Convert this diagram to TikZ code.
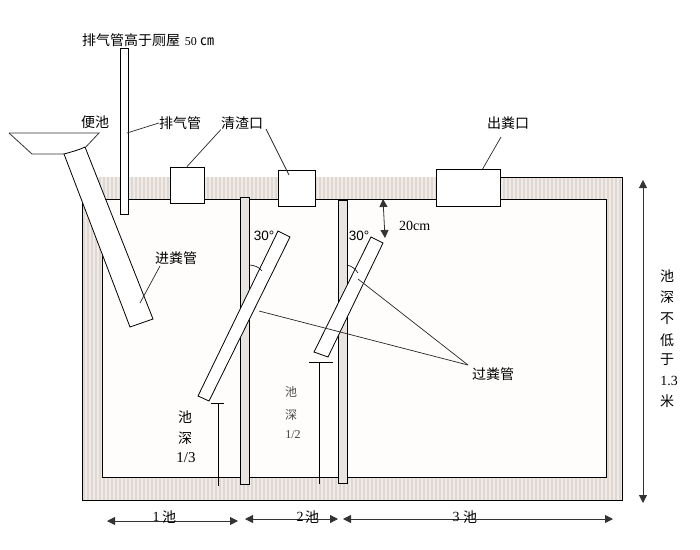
\documentclass[tikz,border=0pt]{standalone}
\usepackage{fontspec}
\setmainfont{Liberation Serif}
\setsansfont{Liberation Sans}
\newfontfamily\cjk{Noto Sans CJK SC}
\definecolor{WallGrey}{HTML}{F0EBE6}
\definecolor{WallStripe}{HTML}{DFD8D2}
\definecolor{PitWhite}{HTML}{FFFCFC}
\usetikzlibrary{calc,positioning,arrows.meta}
\tikzset{
  label cn/.style={font=\cjk\fontsize{14}{14}\selectfont, inner sep=0pt},
  label num/.style={font=\fontsize{14}{14}\selectfont, inner sep=0pt},
  label angle/.style={font=\sffamily\fontsize{13.5}{14}\selectfont, inner sep=0pt},
  label grey/.style={font=\cjk\fontsize{12}{12}\selectfont, inner sep=0pt, text=black!70},
  port box/.style={draw, fill=white, line width=0.9pt, inner sep=0pt},
  pipe/.style={draw, fill=white, line width=0.8pt},
  wall line/.style={line width=0.9pt},
  leader/.style={line width=0.7pt, black!85},
  dim arrow/.style={line width=0.8pt, black!80, {Triangle[length=8pt,width=8pt]}-{Triangle[length=8pt,width=8pt]}},
}
\begin{document}
\begin{tikzpicture}[x=1pt,y=-1pt]
        \useasboundingbox (0,0) rectangle (700,549);

        \fill[WallGrey] (82,177) rectangle (622,500);
        \foreach \sx in {84,88,...,620}
            \draw[WallStripe, line width=1.6pt] (\sx,177) -- (\sx,500);
        \fill[PitWhite] (102,199) rectangle (606,477);
        \draw[wall line] (500,177) -- (622,177) -- (622,500) -- (82,500) -- (82,177);
        \draw[wall line] (102,199) rectangle (606,477);

        \draw[pipe, fill=WallStripe!70] (338,200) rectangle (347,483);
        \draw[pipe, fill=WallStripe!70] (240,197) rectangle (249,484);

        \draw[line width=0.7pt] (218,403) -- (218,486);
        \draw[line width=0.7pt] (211,403) -- (224,403);
        \draw[line width=0.7pt] (319,362) -- (319,484);
        \draw[line width=0.7pt] (309,362) -- (333,362);

        \draw[pipe] (278,231) -- (290,237) -- (209,401) -- (198,396) -- cycle;
        \draw[pipe] (371,237) -- (383,243) -- (328,357) -- (314,352) -- cycle;
        \draw[line width=0.6pt] (249,265) .. controls (254,265) and (259,267) .. (262,271);
        \draw[line width=0.6pt] (347,265) .. controls (351,266) and (355,268) .. (358,273);

        \draw[pipe] (120,48) rectangle (128,214);
        \draw[line width=0.8pt, black!80] (9,133) -- (99,133) -- (83,150);
        \draw[line width=0.8pt, black!80] (9,133) -- (32,154) -- (64,154);
        \draw[pipe] (64,154) .. controls (71,152) and (79,150) .. (85,147) -- (153,319) -- (130,327) -- cycle;

        \node[port box, minimum width=34pt, minimum height=36pt] (cleanA) at (187,185) {};
        \node[port box, minimum width=37pt, minimum height=36pt] (cleanB) at (296.5,188) {};
        \node[port box, minimum width=64pt, minimum height=37pt] (outlet) at (468,187.5) {};

        \node[label cn, anchor=west] (ventnote) at (82,40) {排气管高于厕屋\,\,{\fontspec{Liberation Serif}\fontsize{12}{12}\selectfont 50} ㎝};
        \node[label cn] (toilet) at (95,122) {便池};
        \node[label cn] (vent) at (180,123) {排气管};
        \node[label cn] (clean) at (242,123) {清渣口};
        \node[label cn] (out) at (508,123) {出粪口};
        \node[label cn] (inlet) at (176,258) {进粪管};
        \node[label cn] (transfer) at (493,374) {过粪管};
        \node[label angle] (angleA) at (264,236) {30°};
        \node[label angle] (angleB) at (359,236) {30°};
        \node[label num, anchor=west] (gap) at (399,226) {20cm};

        \node[label cn] (depthA1) at (185,417) {池};
        \node[label cn] (depthA2) at (185,438) {深};
        \node[label num, font=\fontsize{15}{15}\selectfont] (depthA3) at (186,458) {1/3};
        \node[label grey] (depthB1) at (291,392) {池};
        \node[label grey] (depthB2) at (291,415) {深};
        \node[label num, font=\fontsize{12}{12}\selectfont, text=black!75] (depthB3) at (293,435) {1/2};

        \node[label cn] (deep1) at (667,276) {池};
        \node[label cn] (deep2) at (667,297) {深};
        \node[label cn] (deep3) at (667,319) {不};
        \node[label cn] (deep4) at (667,340) {低};
        \node[label cn] (deep5) at (667,360) {于};
        \node[label num] (deep6) at (669,381) {1.3};
        \node[label cn] (deep7) at (667,401) {米};

        \coordinate (ventpt) at (127,133);
        \coordinate (cleanpt) at (289,175);
        \coordinate (cleanend) at (266,129);
        \coordinate (inletpt) at (140,303);
        \coordinate (inletend) at (160,266);
        \coordinate (outpt) at (482,170);
        \coordinate (outend) at (501,137);
        \coordinate (pipeA) at (259,311);
        \coordinate (pipeB) at (358,279);
        \coordinate (joinpt) at (468,365);
        \coordinate (gaptop) at (383,199);
        \coordinate (gapend) at (385,238);

        \draw[leader] (ventpt) -- (vent.west);
        \draw[leader] (cleanA.north) -- (clean.south west);
        \draw[leader] (cleanpt) -- (cleanend);
        \draw[leader] (inletpt) -- (inletend);
        \draw[leader] (outpt) -- (outend);
        \draw[leader] (pipeA) -- (joinpt);
        \draw[leader] (pipeB) -- (joinpt);
        \draw[dim arrow] (gaptop) -- (gapend);

        \coordinate (riseA) at (643,180);
        \coordinate (riseB) at (643,503);
        \coordinate (spanA) at (107,521);
        \coordinate (spanB) at (238,521);
        \coordinate (spanC) at (245,519);
        \coordinate (spanD) at (338,519);
        \coordinate (spanE) at (343,519);
        \coordinate (spanF) at (613,519);
        \draw[dim arrow] (riseA) -- (riseB);
        \draw[dim arrow] (spanA) -- (spanB);
        \draw[dim arrow] (spanC) -- (spanD);
        \draw[dim arrow] (spanE) -- (spanF);
        \node[label num] (poolA) at (156,517) {1};
        \node[label cn] (poolAb) at (169,517) {池};
        \node[label num] (poolB) at (300,517) {2};
        \node[label cn] (poolBb) at (312,517) {池};
        \node[label num] (poolC) at (456,517) {3};
        \node[label cn] (poolCb) at (470,517) {池};
    \end{tikzpicture}
\end{document}
